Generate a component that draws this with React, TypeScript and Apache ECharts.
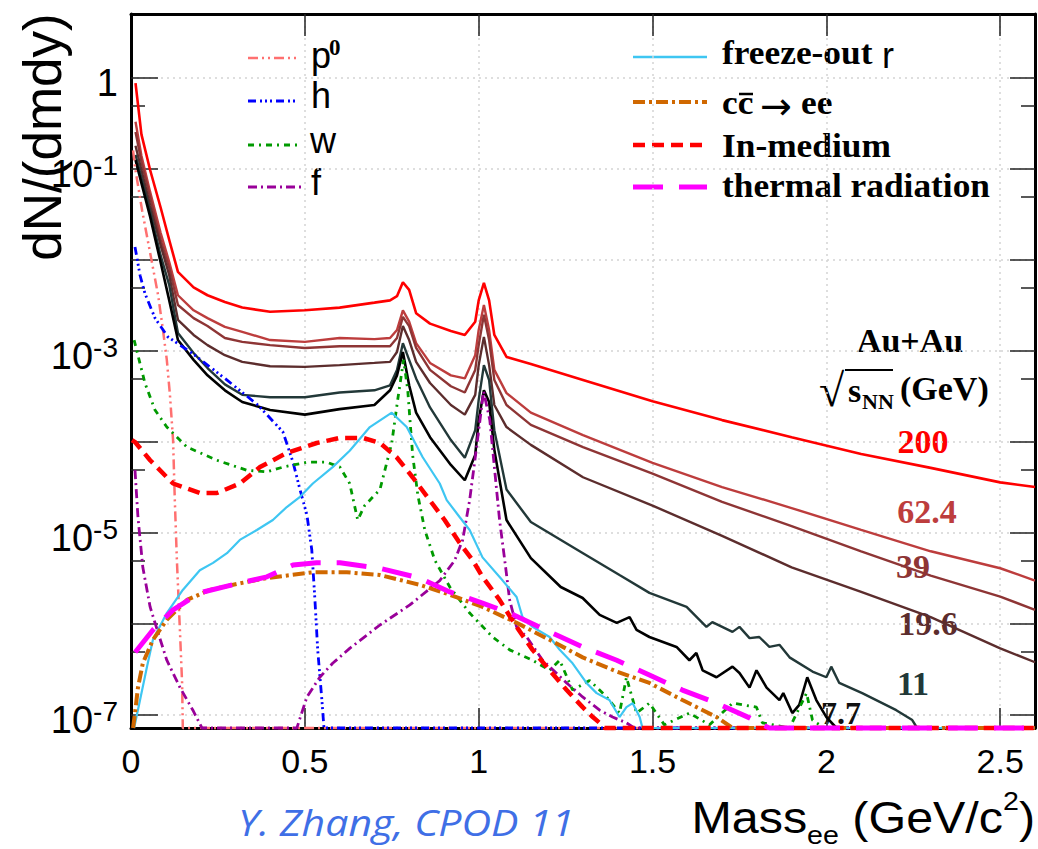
import React, { useEffect, useRef } from "react";
import * as echarts from "echarts";

// ---------- axis ranges ----------
const Y_MIN = 7.2e-8;
const Y_MAX = 5.05;
const FLOOR = Y_MIN;
const X_MIN = 0;
const X_MAX = 2.6;
const X_TICKS = [0.5, 1, 1.5, 2, 2.5];
const X_LABELS = [0, 0.5, 1, 1.5, 2, 2.5];
const Y_MAJOR_EXP = [0, -1, -2, -3, -4, -5, -6, -7];
const Y_MINOR_EXP = [-0.301, -1.301, -2.301, -3.301, -4.301, -5.301, -6.301];
const Y_LABEL_EXP = [0, -1, -3, -5, -7];

// ---------- sum spectra (shared mass grid) ----------
const MASS = [0.013, 0.03, 0.055, 0.085, 0.11, 0.135, 0.18, 0.22, 0.27, 0.32, 0.4, 0.5, 0.6, 0.7, 0.745, 0.765, 0.782, 0.8, 0.82, 0.86, 0.92, 0.96, 0.99, 1.0, 1.015, 1.03, 1.045, 1.08, 1.15, 1.3, 1.5, 1.7, 1.9, 2.1, 2.3, 2.5, 2.6];
const SUM_200 = [0.88, 0.24, 0.0975, 0.038, 0.0166, 7.4e-3, 5.0e-3, 4.1e-3, 3.45e-3, 3.0e-3, 2.7e-3, 2.8e-3, 3.0e-3, 3.4e-3, 3.6e-3, 4.0e-3, 5.7e-3, 4.7e-3, 2.6e-3, 2.0e-3, 1.66e-3, 1.5e-3, 2.1e-3, 3.6e-3, 5.6e-3, 3.6e-3, 1.5e-3, 8.6e-4, 7.2e-4, 4.8e-4, 2.8e-4, 1.74e-4, 1.13e-4, 7.4e-5, 5.2e-5, 3.6e-5, 3.2e-5];
const SUM_62 = [0.33, 0.14, 0.056, 0.02, 9.5e-3, 4.1e-3, 2.8e-3, 2.3e-3, 1.84e-3, 1.62e-3, 1.32e-3, 1.26e-3, 1.39e-3, 1.35e-3, 1.39e-3, 1.7e-3, 2.8e-3, 2.1e-3, 1.22e-3, 7.4e-4, 5.4e-4, 5.0e-4, 9.0e-4, 1.7e-3, 3.2e-3, 1.7e-3, 6.2e-4, 3.45e-4, 2.1e-4, 1.19e-4, 5.9e-5, 3.2e-5, 1.88e-5, 1.08e-5, 6.3e-6, 4.1e-6, 3.0e-6];
const SUM_39 = [0.255, 0.12, 0.049, 0.0166, 8.2e-3, 3.2e-3, 2.3e-3, 1.88e-3, 1.39e-3, 1.26e-3, 1.16e-3, 1.08e-3, 1.13e-3, 1.13e-3, 1.13e-3, 1.39e-3, 2.37e-3, 1.88e-3, 1.08e-3, 6.2e-4, 4.1e-4, 3.5e-4, 6.2e-4, 1.16e-3, 2.5e-3, 1.32e-3, 4.8e-4, 2.55e-4, 1.54e-4, 8.8e-5, 4.5e-5, 2.2e-5, 1.19e-5, 6.3e-6, 3.4e-6, 2.0e-6, 1.43e-6];
const SUM_19 = [0.18, 0.0975, 0.04, 0.0146, 6.8e-3, 2.2e-3, 1.5e-3, 1.16e-3, 9.0e-4, 7.6e-4, 6.8e-4, 6.7e-4, 7.0e-4, 7.4e-4, 7.6e-4, 9.75e-4, 1.88e-3, 1.32e-3, 7.6e-4, 4.45e-4, 2.55e-4, 2.0e-4, 3.3e-4, 7.0e-4, 1.43e-3, 7.0e-4, 2.55e-4, 1.46e-4, 9.3e-5, 4.1e-5, 2.0e-5, 9.3e-6, 4.2e-6, 2.25e-6, 1.19e-6, 5.4e-7, 3.8e-7];
const SUM_11 = [0.143, 0.08, 0.034, 0.0113, 5.3e-3, 1.58e-3, 9.5e-4, 6.5e-4, 4.3e-4, 3.3e-4, 3.1e-4, 3.1e-4, 3.5e-4, 3.7e-4, 4.2e-4, 6.2e-4, 1.22e-3, 8.0e-4, 5.0e-4, 2.4e-4, 1.05e-4, 6.7e-5, 1.35e-4, 2.9e-4, 7.0e-4, 4.8e-4, 1.35e-4, 3.0e-5, 1.32e-5, 6.0e-6];
const TAIL_11 = [[1.405, 3.45e-6], [1.491, 2.2e-6], [1.598, 1.54e-6], [1.635, 1.11e-6], [1.655, 9.3e-7], [1.672, 1.05e-6], [1.73, 8.2e-7], [1.75, 9.3e-7], [1.779, 7.0e-7], [1.807, 7.2e-7], [1.836, 5.6e-7], [1.865, 5.9e-7], [1.894, 4.3e-7], [1.96, 3.0e-7], [2.0, 2.6e-7], [2.014, 3.4e-7], [2.037, 2.25e-7], [2.103, 1.74e-7], [2.201, 1.13e-7], [2.247, 8.8e-8], [2.261, FLOOR]];
const SUM_77 = [0.126, 0.07, 0.03, 9.5e-3, 3.6e-3, 1.32e-3, 8.0e-4, 5.4e-4, 3.7e-4, 2.75e-4, 2.25e-4, 2.0e-4, 2.3e-4, 2.55e-4, 3.7e-4, 5.4e-4, 9.75e-4, 4.2e-4, 2.1e-4, 1.13e-4, 5.6e-5, 3.8e-5, 7.2e-5, 1.74e-4, 3.7e-4, 2.75e-4, 8.2e-5, 1.39e-5, 5.3e-6];
const TAIL_77 = [[1.236, 2.55e-6], [1.299, 1.93e-6], [1.348, 1.26e-6], [1.397, 1.03e-6], [1.434, 1.19e-6], [1.454, 8.6e-7], [1.491, 7.2e-7], [1.569, 5.6e-7], [1.606, 4.0e-7], [1.626, 4.8e-7], [1.644, 3.1e-7], [1.684, 2.6e-7], [1.73, 3.4e-7], [1.75, 2.9e-7], [1.779, 2.0e-7], [1.799, 3.1e-7], [1.828, 2.0e-7], [1.865, 1.46e-7], [1.876, 1.74e-7], [1.902, 1.05e-7], [1.922, 1.29e-7], [1.945, 2.6e-7], [1.971, 1.46e-7], [2.0, 9.5e-8], [2.029, FLOOR]];

// ---------- cocktail components ----------
const PI0 = [[0.006, 0.16], [0.0115, 0.105], [0.032, 0.035], [0.06, 9.5e-3], [0.078, 4.1e-3], [0.092, 1.7e-3], [0.103, 8.0e-4], [0.112, 3.3e-4], [0.121, 1.05e-4], [0.126, 2.3e-5], [0.132, 5.0e-6], [0.141, 8.0e-7], [0.147, 2.25e-7], [0.149, FLOOR], [2.6, FLOOR]];
const ETA = [[0.0115, 0.0139], [0.026, 6.8e-3], [0.04, 4.3e-3], [0.069, 2.3e-3], [0.106, 1.43e-3], [0.175, 9.5e-4], [0.27, 5.0e-4], [0.365, 2.55e-4], [0.437, 1.29e-4], [0.466, 6.0e-5], [0.486, 3.0e-5], [0.506, 1.58e-5], [0.52, 6.5e-6], [0.529, 1.84e-6], [0.537, 5.2e-7], [0.549, 1.46e-7], [0.555, FLOOR], [2.6, FLOOR]];
const OMEGA = [[0.009, 1.32e-3], [0.04, 4.45e-4], [0.069, 2.25e-4], [0.103, 1.46e-4], [0.161, 8.8e-5], [0.247, 6.3e-5], [0.333, 4.9e-5], [0.391, 4.7e-5], [0.437, 5.3e-5], [0.506, 6.0e-5], [0.563, 6.0e-5], [0.601, 5.3e-5], [0.629, 3.5e-5], [0.652, 1.39e-5], [0.672, 2.0e-5], [0.716, 3.0e-5], [0.75, 9.75e-5], [0.767, 2.9e-4], [0.784, 8.0e-4], [0.796, 3.7e-4], [0.81, 7.2e-5], [0.825, 2.6e-5], [0.845, 1.08e-5], [0.874, 5.0e-6], [0.917, 2.55e-6], [0.974, 1.32e-6], [1.04, 7.2e-7], [1.089, 5.2e-7], [1.155, 4.0e-7], [1.204, 3.1e-7], [1.233, 4.0e-7], [1.27, 1.88e-7], [1.319, 2.4e-7], [1.368, 1.58e-7], [1.405, 1.05e-7], [1.425, 2.6e-7], [1.454, 1.05e-7], [1.491, 1.35e-7], [1.534, 7.8e-8], [1.606, 1.05e-7], [1.664, 7.8e-8], [1.73, 1.35e-7], [1.799, 1.22e-7], [1.816, 8.2e-8], [1.894, FLOOR], [1.943, 1.74e-7], [1.96, 8.8e-8], [1.994, FLOOR], [2.6, FLOOR]];
const PHI = [[0.0115, 4.9e-5], [0.02, 1.5e-5], [0.034, 4.2e-6], [0.055, 1.54e-6], [0.078, 8.0e-7], [0.103, 4.0e-7], [0.141, 2.0e-7], [0.178, 1.13e-7], [0.204, FLOOR], [0.477, FLOOR], [0.506, 1.58e-7], [0.543, 2.6e-7], [0.58, 3.7e-7], [0.629, 5.4e-7], [0.716, 9.75e-7], [0.802, 1.62e-6], [0.888, 3.0e-6], [0.931, 5.0e-6], [0.954, 8.4e-6], [0.974, 2.3e-5], [0.994, 8.8e-5], [1.014, 3.6e-4], [1.032, 1.74e-4], [1.046, 4.9e-5], [1.06, 1.39e-5], [1.075, 5.0e-6], [1.089, 1.84e-6], [1.109, 9.3e-7], [1.138, 7.2e-7], [1.184, 4.0e-7], [1.253, 2.25e-7], [1.299, 1.58e-7], [1.348, 1.13e-7], [1.385, 9.5e-8], [1.425, 8.2e-8], [1.448, FLOOR], [2.6, FLOOR]];
const RHO_FREEZE = [[0.009, FLOOR], [0.026, 1.46e-7], [0.046, 3.4e-7], [0.063, 6.7e-7], [0.103, 1.32e-6], [0.149, 2.37e-6], [0.198, 3.9e-6], [0.236, 4.7e-6], [0.276, 6.0e-6], [0.313, 8.4e-6], [0.362, 1.08e-5], [0.408, 1.39e-5], [0.448, 1.93e-5], [0.486, 2.5e-5], [0.523, 3.5e-5], [0.58, 5.3e-5], [0.629, 8.0e-5], [0.687, 1.46e-4], [0.75, 2.1e-4], [0.793, 1.46e-4], [0.839, 6.8e-5], [0.888, 3.5e-5], [0.908, 2.3e-5], [0.945, 1.5e-5], [0.974, 1.08e-5], [1.011, 5.4e-6], [1.069, 3.0e-6], [1.109, 1.98e-6], [1.126, 1.19e-6], [1.155, 9.3e-7], [1.204, 7.2e-7], [1.233, 5.2e-7], [1.27, 3.7e-7], [1.31, 2.25e-7], [1.339, 1.74e-7], [1.376, 1.46e-7], [1.405, 9.5e-8], [1.425, 1.22e-7], [1.443, 1.35e-7], [1.463, 9.5e-8], [1.471, FLOOR], [2.6, FLOOR]];
const CCBAR = [[0.006, FLOOR], [0.0115, 1.05e-7], [0.02, 2.0e-7], [0.034, 3.7e-7], [0.063, 6.7e-7], [0.103, 1.11e-6], [0.161, 1.84e-6], [0.227, 2.37e-6], [0.313, 2.8e-6], [0.391, 3.2e-6], [0.523, 3.7e-6], [0.621, 3.7e-6], [0.716, 3.45e-6], [0.83, 2.7e-6], [0.917, 2.1e-6], [1.011, 1.54e-6], [1.109, 1.03e-6], [1.204, 6.7e-7], [1.299, 4.3e-7], [1.397, 3.0e-7], [1.491, 2.25e-7], [1.586, 1.46e-7], [1.684, 9.5e-8], [1.73, FLOOR], [2.6, FLOOR]];
const IN_MEDIUM = [[0.003, 1.05e-4], [0.0115, 1.0e-4], [0.055, 6.3e-5], [0.121, 3.5e-5], [0.198, 2.75e-5], [0.247, 2.75e-5], [0.313, 3.5e-5], [0.371, 5.3e-5], [0.448, 7.6e-5], [0.534, 9.75e-5], [0.601, 1.11e-4], [0.667, 1.11e-4], [0.716, 9.75e-5], [0.764, 6.8e-5], [0.81, 4.1e-5], [0.859, 2.3e-5], [0.902, 1.39e-5], [0.945, 7.8e-6], [0.983, 5.0e-6], [1.011, 3.3e-6], [1.06, 1.84e-6], [1.109, 9.3e-7], [1.155, 5.2e-7], [1.204, 3.1e-7], [1.253, 1.88e-7], [1.299, 1.22e-7], [1.328, 9.5e-8], [1.348, 8.2e-8], [1.362, FLOOR], [2.6, FLOOR]];
const THERMAL = [[0.012, 4.9e-7], [0.063, 8.6e-7], [0.121, 1.43e-6], [0.198, 2.2e-6], [0.293, 2.7e-6], [0.391, 3.3e-6], [0.466, 4.45e-6], [0.534, 4.7e-6], [0.601, 4.7e-6], [0.716, 4.1e-6], [0.83, 3.2e-6], [0.917, 2.25e-6], [1.011, 1.7e-6], [1.089, 1.32e-6], [1.204, 8.2e-7], [1.299, 5.6e-7], [1.397, 4.0e-7], [1.491, 2.75e-7], [1.586, 1.88e-7], [1.684, 1.35e-7], [1.779, 9.3e-8], [1.816, 7.8e-8], [1.836, FLOOR], [2.6, FLOOR]];

// ---------- labels ----------
const ENERGY_LABELS = ["200", "62.4", "39", "19.6", "11", "7.7"];
const LEFT_LEGEND = ["p", "h", "w", "f"];
const RIGHT_LEGEND = ["freeze-out", "cc", "In-medium", "thermal radiation"];

const C = {
  s200: "#ff0000", s62: "#bd3d3d", s39: "#8e3535", s19: "#5c2d2d", s11: "#223838", s77: "#000000",
  pi0: "#ff7070", eta: "#0000ff", omega: "#009a00", phi: "#990099",
  rho: "#3ec6f2", cc: "#d06800", med: "#ff0000", therm: "#ff00ff",
};

const DASH = {
  pi0: [10, 4, 2, 4, 2, 4],
  eta: [8, 4, 2, 3, 2, 3, 2, 4],
  omega: [6, 5, 2, 5],
  phi: [9, 4, 2, 4],
  cc: [12, 4, 3, 4],
  med: [12, 7],
  therm: [30, 16],
};

function lineSeries(name: string, data: any[], color: string, width: number, type: any) {
  return {
    type: "line", name, data, xAxisIndex: 0, yAxisIndex: 0,
    showSymbol: false, symbol: "none", clip: false, silent: true,
    lineStyle: { color, width, type }, emphasis: { disabled: true },
  };
}

const onGrid = (vals: number[]) => vals.map((v, i) => [MASS[i], v]);

const SERIF = "'Liberation Serif', 'Times New Roman', serif";
const SANS = "'Liberation Sans', Arial, sans-serif";

function txt(x: number, y: number, text: string, o: any = {}) {
  return {
    type: "text", x, y, silent: true, ...(o.el || {}),
    style: {
      text, fill: o.fill || "#000", fontSize: o.size || 34, fontFamily: o.family || SERIF,
      fontWeight: o.weight || "normal", fontStyle: o.style || "normal",
      textAlign: o.align || "left", textVerticalAlign: "middle", ...(o.extra || {}),
    },
  };
}

function legLine(x1: number, x2: number, y: number, color: string, width: number, dash: any) {
  return { type: "line", silent: true, shape: { x1, y1: y, x2, y2: y }, style: { stroke: color, lineWidth: width, lineDash: dash } };
}

function buildOption() {
  const tickStyle = { color: "#222", width: 1.5 };
  const frame = { show: true, onZero: false, lineStyle: { color: "#000", width: 3 } };
  const logMin = Math.log10(Y_MIN);
  const logMax = Math.log10(Y_MAX);
  const yLabelFmt = (v: number) => {
    const e = Math.round(v);
    return e === 0 ? "{m|1}" : `{m|10}{s|${e}}`;
  };
  const wide = { scaleX: 1.04 };

  const series = [
    lineSeries("200", onGrid(SUM_200), C.s200, 2.6, "solid"),
    lineSeries("62.4", onGrid(SUM_62), C.s62, 2.4, "solid"),
    lineSeries("39", onGrid(SUM_39), C.s39, 2.4, "solid"),
    lineSeries("19.6", onGrid(SUM_19), C.s19, 2.4, "solid"),
    lineSeries("11", onGrid(SUM_11).concat(TAIL_11), C.s11, 2.4, "solid"),
    lineSeries("7.7", onGrid(SUM_77).concat(TAIL_77), C.s77, 2.6, "solid"),
    lineSeries("pi0", PI0, C.pi0, 2.5, DASH.pi0),
    lineSeries("eta", ETA, C.eta, 2.8, DASH.eta),
    lineSeries("omega", OMEGA, C.omega, 2.8, DASH.omega),
    lineSeries("phi", PHI, C.phi, 2.8, DASH.phi),
    lineSeries("freeze-out rho", RHO_FREEZE, C.rho, 2.2, "solid"),
    lineSeries("ccbar", CCBAR, C.cc, 4, DASH.cc),
    lineSeries("In-medium", IN_MEDIUM, C.med, 4.5, DASH.med),
    lineSeries("thermal radiation", THERMAL, C.therm, 5, DASH.therm),
  ];

  const graphic: any[] = [
    // y title
    txt(42, 137, "dN/(dmdy)", { size: 53, family: SANS, align: "center", el: { rotation: Math.PI / 2 } }),
    // x title
    {
      type: "text", x: 1035, y: 818, scaleX: 1.1, silent: true,
      style: {
        text: "{m|Mass}{b|ee}{m| (GeV/c}{t|2}{m|)}", textAlign: "right", textVerticalAlign: "middle",
        rich: {
          m: { fontSize: 44, fontFamily: SANS, lineHeight: 60, fill: "#000" },
          b: { fontSize: 26, fontFamily: SANS, lineHeight: 26, verticalAlign: "bottom", fill: "#000" },
          t: { fontSize: 26, fontFamily: SANS, lineHeight: 26, verticalAlign: "top", fill: "#000" },
        },
      },
    },
    // credit
    txt(238, 822, "Y. Zhang, CPOD 11", { size: 36, family: "'Open Sans', 'Noto Sans', sans-serif", style: "italic", fill: "#3f6fe6", el: { scaleX: 1.14 } }),
    // left legend
    legLine(248, 297, 58, C.pi0, 2.5, DASH.pi0),
    legLine(248, 297, 101, C.eta, 3, DASH.eta),
    legLine(248, 299, 145, C.omega, 3, DASH.omega),
    legLine(248, 301, 187, C.phi, 3, DASH.phi),
    txt(311, 55, LEFT_LEGEND[0], { size: 36, family: SANS }),
    txt(329, 47, "0", { size: 23, family: SERIF, weight: "bold" }),
    txt(311, 95, LEFT_LEGEND[1], { size: 36, family: SANS }),
    txt(310, 140, LEFT_LEGEND[2], { size: 36, family: SANS }),
    txt(311, 182, LEFT_LEGEND[3], { size: 36, family: SANS }),
    // right legend
    legLine(633, 707, 57, C.rho, 2.5, null),
    legLine(633, 707, 102, C.cc, 4, DASH.cc),
    legLine(633, 707, 145, C.med, 4.5, DASH.med),
    legLine(633, 707, 187, C.therm, 5, DASH.therm),
    txt(722, 53, RIGHT_LEGEND[0], { size: 34, weight: "bold", el: wide }),
    txt(882, 55, "r", { size: 36, family: SANS }),
    txt(722, 103, RIGHT_LEGEND[1], { size: 34, weight: "bold", el: wide }),
    { type: "line", silent: true, shape: { x1: 739, y1: 94, x2: 753, y2: 94 }, style: { stroke: "#000", lineWidth: 2.5 } },
    txt(760, 106, "\u2192", { size: 38, family: "'DejaVu Sans', sans-serif" }),
    txt(801, 103, "ee", { size: 34, weight: "bold", el: wide }),
    txt(722, 146, RIGHT_LEGEND[2], { size: 34, weight: "bold", el: wide }),
    txt(722, 186, RIGHT_LEGEND[3], { size: 34, weight: "bold", el: wide }),
    // system label
    txt(910, 340, "Au+Au", { size: 34, weight: "bold", align: "center" }),
    txt(819, 390, "\u221A", { size: 46, family: SERIF }),
    { type: "line", silent: true, shape: { x1: 845, y1: 370, x2: 893, y2: 370 }, style: { stroke: "#000", lineWidth: 2 } },
    txt(848, 390, "s", { size: 34, weight: "bold" }),
    txt(862, 401, "NN", { size: 22, weight: "bold" }),
    txt(900, 388, "(GeV)", { size: 34, weight: "bold" }),
    // energies
    txt(923, 441, ENERGY_LABELS[0], { size: 34, weight: "bold", align: "center", fill: C.s200 }),
    txt(927, 511, ENERGY_LABELS[1], { size: 34, weight: "bold", align: "center", fill: C.s62 }),
    txt(913, 566, ENERGY_LABELS[2], { size: 34, weight: "bold", align: "center", fill: C.s39 }),
    txt(928, 623, ENERGY_LABELS[3], { size: 34, weight: "bold", align: "center", fill: C.s19 }),
    txt(913, 683, ENERGY_LABELS[4], { size: 34, weight: "bold", align: "center", fill: C.s11 }),
    txt(841, 713, ENERGY_LABELS[5], { size: 32, weight: "bold", align: "center", fill: "#111" }),
  ];

  return {
    animation: false,
    backgroundColor: "#ffffff",
    grid: { left: 131, right: 3, top: 14, bottom: 121, containLabel: false },
    xAxis: [
      {
        type: "value", min: X_MIN, max: X_MAX, position: "bottom",
        axisLine: frame,
        axisTick: { show: true, inside: true, length: 20, customValues: X_TICKS, lineStyle: tickStyle },
        axisLabel: { show: true, customValues: X_LABELS, margin: 16, fontSize: 34, color: "#000", fontFamily: SANS, formatter: (v: number) => String(v) },
        splitLine: { show: true, lineStyle: { color: "#d4d4d4", width: 1.5, type: [2, 4] } },
      },
      {
        type: "value", min: X_MIN, max: X_MAX, position: "top",
        axisLine: frame,
        axisTick: { show: true, inside: true, length: 22, customValues: X_TICKS, lineStyle: tickStyle },
        axisLabel: { show: false }, splitLine: { show: false },
      },
    ],
    yAxis: [
      { type: "log", logBase: 10, min: Y_MIN, max: Y_MAX, show: false, splitLine: { show: false } },
      {
        type: "value", min: logMin, max: logMax, position: "left",
        axisLine: frame,
        axisTick: { show: true, inside: true, length: 27, customValues: Y_MAJOR_EXP, lineStyle: tickStyle },
        axisLabel: {
          show: true, customValues: Y_LABEL_EXP, margin: 13, formatter: yLabelFmt, padding: [10, 0, 0, 0],
          rich: {
            m: { fontSize: 38, fontFamily: SANS, color: "#000", lineHeight: 46 },
            s: { fontSize: 28, fontFamily: SANS, color: "#000", lineHeight: 28, verticalAlign: "top" },
          },
        },
        splitLine: { show: true, lineStyle: { color: "#d4d4d4", width: 1.5, type: [2, 4] } },
      },
      {
        type: "value", min: logMin, max: logMax, position: "left",
        axisLine: { show: false },
        axisTick: { show: true, inside: true, length: 14, customValues: Y_MINOR_EXP, lineStyle: tickStyle },
        axisLabel: { show: false }, splitLine: { show: false },
      },
      {
        type: "value", min: logMin, max: logMax, position: "right",
        axisLine: frame,
        axisTick: { show: true, inside: true, length: 25, customValues: Y_MAJOR_EXP, lineStyle: tickStyle },
        axisLabel: { show: false }, splitLine: { show: false },
      },
      {
        type: "value", min: logMin, max: logMax, position: "right",
        axisLine: { show: false },
        axisTick: { show: true, inside: true, length: 14, customValues: Y_MINOR_EXP, lineStyle: tickStyle },
        axisLabel: { show: false }, splitLine: { show: false },
      },
    ],
    series,
    graphic,
  };
}

export default function App() {
  const ref = useRef<HTMLDivElement>(null);
  useEffect(() => {
    if (!ref.current) return;
    const chart = echarts.init(ref.current, null, { renderer: "svg" });
    chart.setOption(buildOption() as any);
    return () => chart.dispose();
  }, []);
  return (
    <div
      ref={ref}
      style={{ position: "absolute", left: 0, top: 0, width: 1038, height: 849, background: "#fff" }}
    />
  );
}
